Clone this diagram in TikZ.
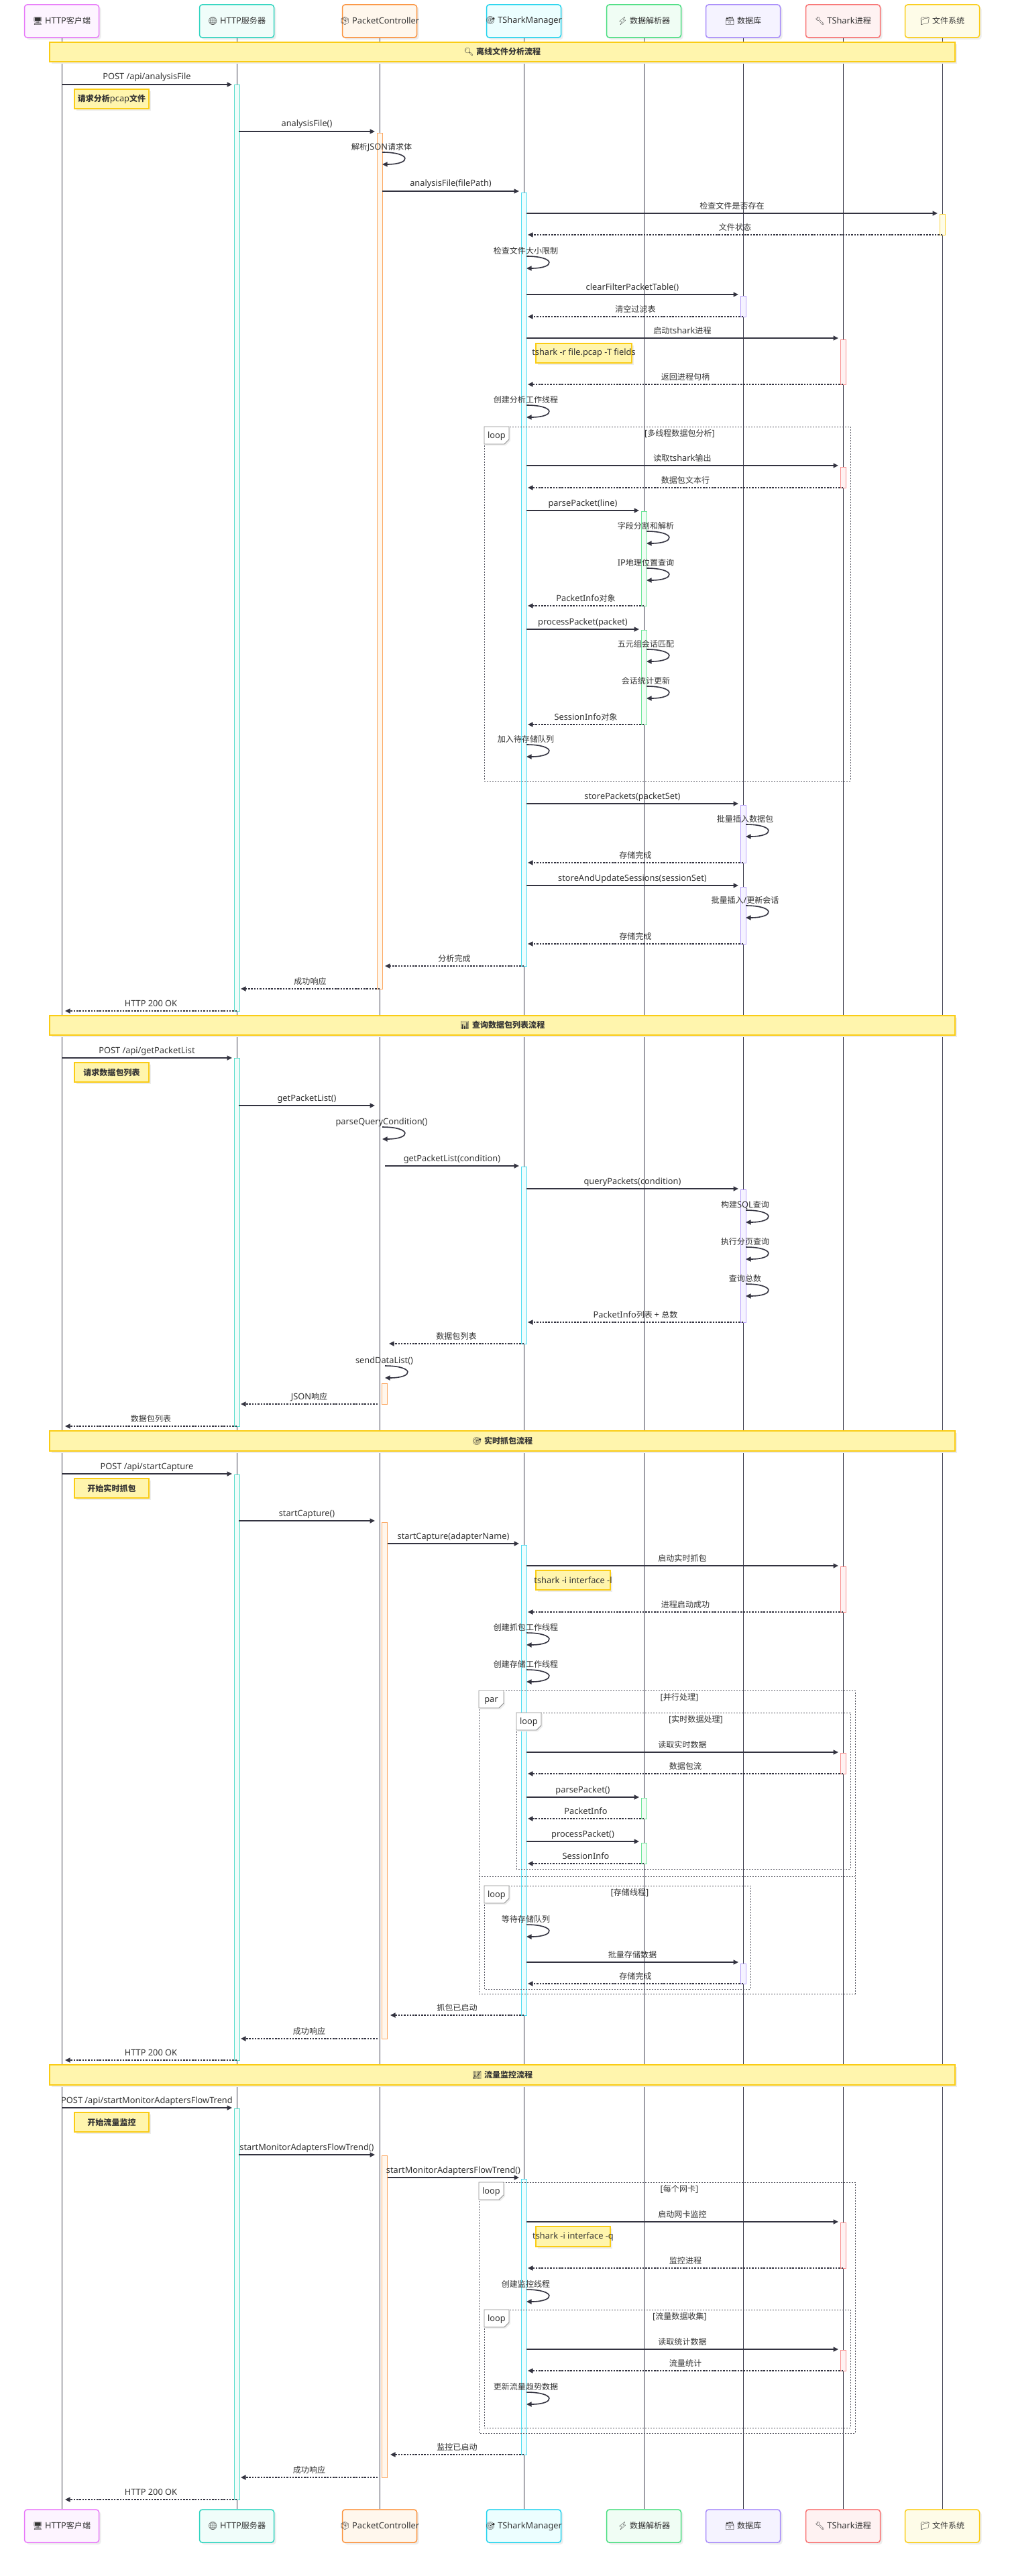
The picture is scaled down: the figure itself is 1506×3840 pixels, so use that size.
\documentclass[tikz,border=0pt]{standalone}
\usepackage{fontspec}
\setmainfont{Noto Sans}
\newfontfamily\cjkfont{Noto Sans CJK SC}[Scale=0.94]
\newfontfamily\emojifont{Noto Emoji}[Scale=0.92]
\usetikzlibrary{arrows.meta,calc}
% automatic font switching for CJK and emoji
\XeTeXinterchartokenstate=1
\newXeTeXintercharclass\cjkclass
\newXeTeXintercharclass\emojiclass
\newcount\cjkcnt
\cjkcnt="4E00
\loop\XeTeXcharclass\cjkcnt=\cjkclass\relax\ifnum\cjkcnt<"9FFF \advance\cjkcnt by 1 \repeat
\XeTeXcharclass"1F5A5=\emojiclass
\XeTeXcharclass"1F310=\emojiclass
\XeTeXcharclass"1F4E6=\emojiclass
\XeTeXcharclass"1F3AF=\emojiclass
\XeTeXcharclass"26A1=\emojiclass
\XeTeXcharclass"1F5C3=\emojiclass
\XeTeXcharclass"1F527=\emojiclass
\XeTeXcharclass"1F4C1=\emojiclass
\XeTeXcharclass"1F50D=\emojiclass
\XeTeXcharclass"1F4CA=\emojiclass
\XeTeXcharclass"1F4C8=\emojiclass
\XeTeXinterchartoks 0 \cjkclass = {\cjkfont}
\XeTeXinterchartoks 4095 \cjkclass = {\cjkfont}
\XeTeXinterchartoks \emojiclass \cjkclass = {\cjkfont}
\XeTeXinterchartoks \cjkclass 0 = {\rmfamily}
\XeTeXinterchartoks 4095 0 = {\rmfamily}
\XeTeXinterchartoks \emojiclass 0 = {\rmfamily}
\XeTeXinterchartoks \emojiclass 4095 = {\rmfamily}
\XeTeXinterchartoks 0 \emojiclass = {\emojifont}
\XeTeXinterchartoks 4095 \emojiclass = {\emojifont}
\XeTeXinterchartoks \cjkclass \emojiclass = {\emojifont}

\definecolor{cA}{HTML}{E879F9}\definecolor{fA}{HTML}{FDF4FF}
\definecolor{cB}{HTML}{2DD4BF}\definecolor{fB}{HTML}{F0FDFA}
\definecolor{cC}{HTML}{FB923C}\definecolor{fC}{HTML}{FFF7ED}
\definecolor{cD}{HTML}{22D3EE}\definecolor{fD}{HTML}{ECFEFF}
\definecolor{cE}{HTML}{4ADE80}\definecolor{fE}{HTML}{F0FDF4}
\definecolor{cF}{HTML}{A78BFA}\definecolor{fF}{HTML}{F5F3FF}
\definecolor{cG}{HTML}{F87171}\definecolor{fG}{HTML}{FEF2F2}
\definecolor{cH}{HTML}{FACC15}\definecolor{fH}{HTML}{FEFCE8}
\definecolor{txt}{HTML}{333333}
\definecolor{msgc}{HTML}{333340}
\definecolor{lifec}{HTML}{3A3A4A}
\definecolor{framec}{HTML}{555560}
\definecolor{notefill}{HTML}{FFF5AD}
\definecolor{noteline}{HTML}{FACC15}
\colorlet{shadowc}{black!7}

\tikzset{
  lbl/.style={font=\fontsize{12.8}{15}\selectfont, text=txt, inner sep=0pt},
  boldlbl/.style={font=\fontsize{12.8}{15}\selectfont\bfseries, text=txt, inner sep=0pt},
  solidm/.style={draw=msgc, line width=1.6pt, -{Triangle[length=7.5pt,width=7pt]}},
  retm/.style={solidm, dash pattern=on 2.5pt off 1.8pt},
  life/.style={draw=lifec, line width=0.9pt},
  framel/.style={draw=framec, line width=0.9pt, dash pattern=on 2pt off 2pt},
  framelab/.style={draw=black!45, fill=white, line width=0.9pt},
  actbox/.style={rectangle, rounded corners=4pt, line width=1.5pt, minimum width=111pt, minimum height=49pt, inner sep=0pt},
  notestyle/.style={draw=noteline, fill=notefill, line width=1.5pt},
}

\newcommand\actorbox[5]{%
  \fill[shadowc, rounded corners=4pt] ({#2-55.5+3},{#3-24.5+3}) rectangle ({#2+55.5+3},{#3+24.5+3});
  \node[actbox, draw=c#4, fill=f#4] (#1) at (#2,#3) {};
  \node[lbl] at (#1.center) {#5};}
\newcommand\actv[4]{%
  \draw[draw=c#4!80, fill=f#4, line width=0.9pt] ({#1-4},#2) rectangle ({#1+4},#3);}
\newcommand\seqmsg[6]{%
  \coordinate (#1s) at (#3,#2);
  \coordinate (#1e) at (#4,#2);
  \draw[#6] (#1s) -- (#1e);
  \node[lbl, anchor=base] at ($(#1s)!0.5!(#1e)+(0,-7)$) {#5};}
\newcommand\seqself[4]{%
  \coordinate (#1s) at ({#2+4},#3);
  \coordinate (#1e) at ({#2+4},{#3+18});
  \draw[solidm] (#1s) .. controls ({#2+48},#3) and ({#2+48},{#3+18}) .. (#1e);
  \node[lbl, anchor=base] at ({#2+3},{#3-3.5}) {#4};}
\newcommand\seqnote[6]{%
  \fill[shadowc] ({#2+3},{#3+3}) rectangle ({#4+3},{#5+3});
  \draw[notestyle] (#2,#3) rectangle (#4,#5);
  \node[boldlbl] (#1) at ({(#2+#4)/2},{(#3+#5)/2}) {#6};}
\newcommand\sectbar[4]{%
  \fill[shadowc] (77,{#2+3}) rectangle (1427,{#3+3});
  \draw[notestyle] (74,#2) rectangle (1424,#3);
  \node[boldlbl] (#1) at (749,{(#2+#3)/2}) {#4};}
\newcommand\frameblk[7]{%
  \draw[framel] (#2,#3) rectangle (#4,#5);
  \fill[shadowc] ({#2+2},{#3+2}) -- ++(37,0) -- ++(0,19) -- ++(-7,7) -- ++(-30,0) -- cycle;
  \draw[framelab] (#2,#3) -- ++(37,0) -- ++(0,19) -- ++(-7,7) -- ++(-30,0) -- cycle;
  \node[lbl, anchor=base] (#1) at ({#2+18.5},{#3+17}) {#6};
  \node[lbl, anchor=base] at ({(#2+37+#4)/2},{#3+14.5}) {#7};}

\begin{document}
\begin{tikzpicture}[x=1pt,y=-1pt]
\useasboundingbox (0,0) rectangle (1506,3840);
\fill[white] (0,0) rectangle (1506,3840);

% participants (top and bottom)
\actorbox{tA}{92}{31.5}{A}{🖥 HTTP客户端}
\actorbox{tB}{353}{31.5}{B}{🌐 HTTP服务器}
\actorbox{tC}{566}{31.5}{C}{📦 PacketController}
\actorbox{tD}{781}{31.5}{D}{🎯 TSharkManager}
\actorbox{tE}{960}{31.5}{E}{⚡ 数据解析器}
\actorbox{tF}{1108}{31.5}{F}{🗃 数据库}
\actorbox{tG}{1257}{31.5}{G}{🔧 TShark进程}
\actorbox{tH}{1405}{31.5}{H}{📁 文件系统}
\actorbox{bA}{92}{3765.5}{A}{🖥 HTTP客户端}
\actorbox{bB}{353}{3765.5}{B}{🌐 HTTP服务器}
\actorbox{bC}{566}{3765.5}{C}{📦 PacketController}
\actorbox{bD}{781}{3765.5}{D}{🎯 TSharkManager}
\actorbox{bE}{960}{3765.5}{E}{⚡ 数据解析器}
\actorbox{bF}{1108}{3765.5}{F}{🗃 数据库}
\actorbox{bG}{1257}{3765.5}{G}{🔧 TShark进程}
\actorbox{bH}{1405}{3765.5}{H}{📁 文件系统}

% lifelines
\foreach \n in {A,B,C,D,E,F,G,H} {\draw[life] (t\n.south) -- (b\n.north);}

% activations
\actv{353}{126}{1507}{B}
\actv{566}{198}{1474}{C}
\actv{781}{287}{1440}{D}
\actv{1405}{319}{350}{H}
\actv{1108}{441}{472}{F}
\actv{1257}{506}{573}{G}
\actv{1257}{696}{727}{G}
\actv{960}{762}{903}{E}
\actv{960}{939}{1080}{E}
\actv{1108}{1200}{1286}{F}
\actv{1108}{1322}{1407}{F}
\actv{353}{1577}{2126}{B}
\actv{781}{1739}{2003}{D}
\actv{1108}{1773}{1971}{F}
\actv{573.5}{2062}{2093}{C}
\actv{353}{2198}{3071}{B}
\actv{573.5}{2269}{3039}{C}
\actv{781}{2303}{3004}{D}
\actv{1257}{2335}{2403}{G}
\actv{1257}{2613}{2644}{G}
\actv{960}{2680}{2711}{E}
\actv{960}{2747}{2778}{E}
\actv{1108}{2927}{2957}{F}
\actv{353}{3143}{3726}{B}
\actv{573.5}{3213}{3693}{C}
\actv{781}{3248}{3659}{D}
\actv{1257}{3313}{3381}{G}
\actv{1257}{3503}{3534}{G}

% frames
\frameblk{f1}{722}{636}{1268}{1164}{loop}{[多线程数据包分析]}
\frameblk{f2}{714}{2520}{1275}{2972}{par}{[并行处理]}
\coordinate (pdl) at (714,2797);
\coordinate (pdr) at (1275,2797);
\draw[framel] (pdl) -- (pdr);
\frameblk{f3}{770}{2553}{1268}{2786}{loop}{[实时数据处理]}
\frameblk{f4}{722}{2811}{1119}{2965}{loop}{[存储线程]}
\frameblk{f5}{714}{3253}{1275}{3627}{loop}{[每个网卡]}
\frameblk{f6}{722}{3443}{1268}{3619}{loop}{[流量数据收集]}

% section bars
\sectbar{sec1}{63}{92}{🔍 离线文件分析流程}
\sectbar{sec2}{1514}{1543}{📊 查询数据包列表流程}
\sectbar{sec3}{2133}{2163}{🎯 实时抓包流程}
\sectbar{sec4}{3078}{3108}{📈 流量监控流程}

% ---- section 1
\seqmsg{m1}{126}{92}{346}{POST /api/analysisFile}{solidm}
\seqnote{n1}{111}{133}{222}{162}{请求分析pcap文件}
\seqmsg{m2}{196}{356}{559}{analysisFile()}{solidm}
\seqself{s1}{566}{227}{解析JSON请求体}
\seqmsg{m3}{285}{570}{774}{analysisFile(filePath)}{solidm}
\seqmsg{m4}{318}{785}{1398}{检查文件是否存在}{solidm}
\seqmsg{m5}{350}{1405}{787}{文件状态}{retm}
\seqself{s2}{781}{382}{检查文件大小限制}
\seqmsg{m6}{439}{785}{1101}{clearFilterPacketTable()}{solidm}
\seqmsg{m7}{472}{1108}{787}{清空过滤表}{retm}
\seqmsg{m8}{504}{785}{1250}{启动tshark进程}{solidm}
\seqnote{n2}{799}{512}{942}{541}{tshark -r file.pcap -T fields}
\seqmsg{m9}{573}{1257}{787}{返回进程句柄}{retm}
\seqself{s3}{781}{604}{创建分析工作线程}
\seqmsg{m10}{694}{785}{1250}{读取tshark输出}{solidm}
\seqmsg{m11}{727}{1257}{787}{数据包文本行}{retm}
\seqmsg{m12}{761}{785}{953}{parsePacket(line)}{solidm}
\seqself{s4}{960}{792}{字段分割和解析}
\seqself{s5}{960}{847}{IP地理位置查询}
\seqmsg{m13}{903}{960}{787}{PacketInfo对象}{retm}
\seqmsg{m14}{938}{785}{953}{processPacket(packet)}{solidm}
\seqself{s6}{960}{968}{五元组会话匹配}
\seqself{s7}{960}{1023}{会话统计更新}
\seqmsg{m15}{1080}{960}{787}{SessionInfo对象}{retm}
\seqself{s8}{781}{1110}{加入待存储队列}
\seqmsg{m16}{1198}{785}{1101}{storePackets(packetSet)}{solidm}
\seqself{s9}{1108}{1229}{批量插入数据包}
\seqmsg{m17}{1286}{1108}{787}{存储完成}{retm}
\seqmsg{m18}{1320}{785}{1101}{storeAndUpdateSessions(sessionSet)}{solidm}
\seqself{s10}{1108}{1350}{批量插入/更新会话}
\seqmsg{m19}{1407}{1108}{787}{存储完成}{retm}
\seqmsg{m20}{1440}{781}{574}{分析完成}{retm}
\seqmsg{m21}{1474}{566}{359}{成功响应}{retm}
\seqmsg{m22}{1507}{353}{97}{HTTP 200 OK}{retm}

% ---- section 2
\seqmsg{m23}{1577}{92}{346}{POST /api/getPacketList}{solidm}
\seqnote{n3}{111}{1584}{222}{1613}{请求数据包列表}
\seqmsg{m24}{1648}{356}{559}{getPacketList()}{solidm}
\seqself{s11}{566}{1680}{parseQueryCondition()}
\seqmsg{m25}{1738}{574}{774}{getPacketList(condition)}{solidm}
\seqmsg{m26}{1772}{785}{1101}{queryPackets(condition)}{solidm}
\seqself{s12}{1108}{1804}{构建SQL查询}
\seqself{s13}{1108}{1859}{执行分页查询}
\seqself{s14}{1108}{1914}{查询总数}
\seqmsg{m27}{1971}{1108}{787}{PacketInfo列表 + 总数}{retm}
\seqmsg{m28}{2003}{781}{580}{数据包列表}{retm}
\seqself{s15}{570}{2036}{sendDataList()}
\seqmsg{m29}{2093}{563}{359}{JSON响应}{retm}
\seqmsg{m30}{2126}{353}{97}{数据包列表}{retm}

% ---- section 3
\seqmsg{m31}{2197}{92}{346}{POST /api/startCapture}{solidm}
\seqnote{n4}{111}{2204}{222}{2233}{开始实时抓包}
\seqmsg{m32}{2267}{356}{559}{startCapture()}{solidm}
\seqmsg{m33}{2301}{578}{774}{startCapture(adapterName)}{solidm}
\seqmsg{m34}{2334}{785}{1250}{启动实时抓包}{solidm}
\seqnote{n5}{799}{2341}{910}{2370}{tshark -i interface -l}
\seqmsg{m35}{2403}{1257}{787}{进程启动成功}{retm}
\seqself{s16}{781}{2434}{创建抓包工作线程}
\seqself{s17}{781}{2489}{创建存储工作线程}
\seqmsg{m36}{2612}{785}{1250}{读取实时数据}{solidm}
\seqmsg{m37}{2644}{1257}{787}{数据包流}{retm}
\seqmsg{m38}{2679}{785}{953}{parsePacket()}{solidm}
\seqmsg{m39}{2711}{960}{787}{PacketInfo}{retm}
\seqmsg{m40}{2745}{785}{953}{processPacket()}{solidm}
\seqmsg{m41}{2778}{960}{787}{SessionInfo}{retm}
\seqself{s18}{781}{2869}{等待存储队列}
\seqmsg{m42}{2925}{785}{1101}{批量存储数据}{solidm}
\seqmsg{m43}{2957}{1108}{787}{存储完成}{retm}
\seqmsg{m44}{3004}{781}{582}{抓包已启动}{retm}
\seqmsg{m45}{3039}{563}{359}{成功响应}{retm}
\seqmsg{m46}{3071}{353}{97}{HTTP 200 OK}{retm}

% ---- section 4
\seqmsg{m47}{3142}{92}{346}{POST /api/startMonitorAdaptersFlowTrend}{solidm}
\seqnote{n6}{111}{3149}{222}{3178}{开始流量监控}
\seqmsg{m48}{3212}{356}{559}{startMonitorAdaptersFlowTrend()}{solidm}
\seqmsg{m49}{3246}{578}{774}{startMonitorAdaptersFlowTrend()}{solidm}
\seqmsg{m50}{3312}{785}{1250}{启动网卡监控}{solidm}
\seqnote{n7}{799}{3319}{910}{3349}{tshark -i interface -q}
\seqmsg{m51}{3381}{1257}{787}{监控进程}{retm}
\seqself{s19}{781}{3413}{创建监控线程}
\seqmsg{m52}{3502}{785}{1250}{读取统计数据}{solidm}
\seqmsg{m53}{3534}{1257}{787}{流量统计}{retm}
\seqself{s20}{781}{3566}{更新流量趋势数据}
\seqmsg{m54}{3659}{781}{582}{监控已启动}{retm}
\seqmsg{m55}{3693}{563}{359}{成功响应}{retm}
\seqmsg{m56}{3726}{353}{97}{HTTP 200 OK}{retm}
\end{tikzpicture}
\end{document}
